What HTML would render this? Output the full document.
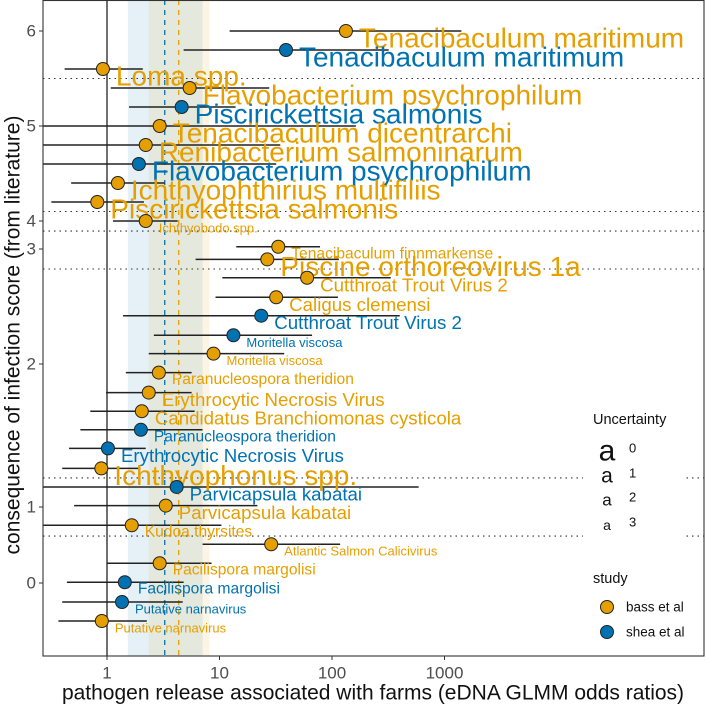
<!DOCTYPE html>
<html><head><meta charset="utf-8">
<style>
html,body{margin:0;padding:0;background:#fff;}
svg{display:block;font-family:"Liberation Sans",Arial,sans-serif;}
</style></head>
<body>
<svg id="chart" width="706" height="706" viewBox="0 0 706 706"></svg>
<script>
// ---- data ----
const pathogens = ["Tenacibaculum maritimum","Tenacibaculum maritimum","Loma spp.","Flavobacterium psychrophilum","Piscirickettsia salmonis","Tenacibaculum dicentrarchi","Renibacterium salmoninarum","Flavobacterium psychrophilum","Ichthyophthirius multifiliis","Piscirickettsia salmonis","Ichthyobodo spp.","Tenacibaculum finnmarkense","Piscine orthoreovirus 1a","Cutthroat Trout Virus 2","Caligus clemensi","Cutthroat Trout Virus 2","Moritella viscosa","Moritella viscosa","Paranucleospora theridion","Erythrocytic Necrosis Virus","Candidatus Branchiomonas cysticola","Paranucleospora theridion","Erythrocytic Necrosis Virus","Ichthyophonus spp.","Parvicapsula kabatai","Parvicapsula kabatai","Kudoa thyrsites","Atlantic Salmon Calicivirus","Pacilispora margolisi","Facilispora margolisi","Putative narnavirus","Putative narnavirus"];
const study = ["bass","shea","bass","bass","shea","bass","bass","shea","bass","bass","bass","bass","bass","bass","bass","shea","shea","bass","bass","bass","bass","shea","shea","bass","shea","bass","bass","bass","bass","shea","shea","bass"];
const scores = [6,5.8,5.6,5.4,5.2,5.0,4.8,4.6,4.4,4.2,4.0,3.08,2.91,2.75,2.58,2.42,2.25,2.09,1.94,1.80,1.67,1.54,1.41,1.27,1.14,1.01,0.76,0.51,0.26,0.01,-0.25,-0.5];
const oddsRatio = [133,39,0.92,5.43,4.61,2.94,2.21,1.92,1.25,0.82,2.21,33.3,26.6,60.1,31.9,23.5,13.3,8.85,2.89,2.35,2.04,2.0,1.02,0.89,4.16,3.33,1.66,28.8,2.94,1.44,1.36,0.90];
const ciLow = [12.3,4.8,0.42,1.08,1.57,0.01,0.01,0.01,0.48,0.32,1.13,14.1,6.13,10.6,9.22,1.39,2.61,2.35,1.47,0.98,0.71,0.58,0.46,0.40,0.01,0.51,0.01,7.07,1,0.44,0.40,0.37];
const ciHigh = [1413,319,2.08,27.7,13.9,163,34.7,31.9,3.26,2.13,4.25,78.3,115,333,113,400,66.5,37.6,5.65,5.65,6.01,7.07,2.21,1.96,589,21.7,10.4,118,8.5,4.8,4.71,2.26];
const uncertainty = [0,0,0,0,0,0,0,0,0,0,3,2,0,1,1,1,3,3,2,1,1,2,1,0,1,1,2,3,2,2,3,3];
const yTicks = [6,5,4,3,2,1,0];
const xTicks = [1,10,100,1000];
const separators = [5.5,4.1,3.64,2.826,1.203,0.618];
const meanOR = {shea:3.26, bass:4.34};
const bandOR = {shea:[1.53,7.07], bass:[2.35,8.15]};

// ---- scales ----
const PL=43, PR=704, PT=0, PB=656;
function xs(v){ return 107 + 112.5*Math.log10(v); }
const knots=[[6,31],[4,221],[3,249],[2,364],[1,507],[0,583],[-1,659]];
function ys(s){
  for(let i=0;i<knots.length-1;i++){
    const a=knots[i],b=knots[i+1];
    if(s<=a[0] && s>=b[0]) return a[1]+(a[0]-s)/(a[0]-b[0])*(b[1]-a[1]);
  }
  if(s>6) return 31-(s-6)*95;
  return 659+(-1-s)*76;
}
const colors={bass:"#E69F00", shea:"#0072B2"};
const sizeFor=[28,18.7,15.6,13];

const NS="http://www.w3.org/2000/svg";
const svg=document.getElementById('chart');
function el(tag,attrs,parent){const e=document.createElementNS(NS,tag);for(const k in attrs)e.setAttribute(k,attrs[k]);(parent||svg).appendChild(e);return e;}

const defs=el('defs',{});
const cp=el('clipPath',{id:'pc'},defs);
el('rect',{x:PL,y:PT,width:PR-PL,height:PB-PT},cp);

const panel=el('g',{'clip-path':'url(#pc)'});



for(const s of ["shea","bass"]){
  const r=el('rect',{x:xs(bandOR[s][0]),y:PT,width:xs(bandOR[s][1])-xs(bandOR[s][0]),height:PB-PT,fill:colors[s],'fill-opacity':0.1},panel);
  
  
}
separators.forEach((s,i)=>{
  const l=el('line',{x1:PL,x2:PR,y1:ys(s),y2:ys(s),stroke:'#333','stroke-width':1.1,'stroke-dasharray':'1.5 4'},panel);
  
  
});
const ref=el('line',{x1:xs(1),x2:xs(1),y1:PT,y2:PB,stroke:'#111','stroke-width':1.2},panel);


for(const s of ["shea","bass"]){
  const l=el('line',{x1:xs(meanOR[s]),x2:xs(meanOR[s]),y1:PT,y2:PB,stroke:colors[s],'stroke-width':1.3,'stroke-dasharray':'5 5'},panel);
  
  
}
pathogens.forEach((p,i)=>{
  const y=ys(scores[i]);
  const l=el('line',{x1:xs(ciLow[i]),x2:xs(ciHigh[i]),y1:y,y2:y,stroke:'#222','stroke-width':1.5},panel);
  
  
});
pathogens.forEach((p,i)=>{
  const t=el('text',{x:xs(oddsRatio[i])+13,y:ys(scores[i])+7,'font-size':sizeFor[uncertainty[i]],fill:colors[study[i]],'dominant-baseline':'central'},panel);
  t.textContent=p;
  
  
});
pathogens.forEach((p,i)=>{
  const c=el('circle',{cx:xs(oddsRatio[i]),cy:ys(scores[i]),r:6.5,fill:colors[study[i]],stroke:'#222','stroke-width':1},panel);
  
  
});

// legend
const lg=el('g',{});


el('rect',{x:583,y:400,width:100,height:250,fill:'#fff'},lg);
const lt=el('text',{x:593,y:424,'font-size':14.5,fill:'#111'},lg);lt.textContent='Uncertainty';


const aSizes=[30,21,17,14], aY=[451,476,500,525];
[0,1,2,3].forEach((u,i)=>{
  const a=el('text',{x:607,y:aY[i],'font-size':aSizes[i],'text-anchor':'middle','dominant-baseline':'central',fill:'#111'},lg);a.textContent='a';
  
  
  const n=el('text',{x:629,y:aY[i]-3,'font-size':13,'dominant-baseline':'central',fill:'#111'},lg);n.textContent=String(u);
  
  
});
const st=el('text',{x:593,y:583,'font-size':14.5,fill:'#111'},lg);st.textContent='study';


[["bass","bass et al",607],["shea","shea et al",632]].forEach(d=>{
  const c=el('circle',{cx:607,cy:d[2],r:6.5,fill:colors[d[0]],stroke:'#222','stroke-width':1},lg);
  
  
  const t=el('text',{x:626,y:d[2],'font-size':13.5,'dominant-baseline':'central',fill:'#111'},lg);t.textContent=d[1];
  
  
});

const border=el('rect',{x:PL,y:PT+0.5,width:PR-PL,height:PB-PT-0.5,fill:'none',stroke:'#333','stroke-width':1.1});



yTicks.forEach(v=>{
  const y=ys(v);
  el('line',{x1:PL-4,x2:PL,y1:y,y2:y,stroke:'#333','stroke-width':1});
  const t=el('text',{x:PL-7,y:y,'font-size':17,'text-anchor':'end','dominant-baseline':'central',fill:'#4d4d4d'});
  t.textContent=String(v);
  
  
});
xTicks.forEach(v=>{
  const x=xs(v);
  el('line',{x1:x,x2:x,y1:PB,y2:PB+4,stroke:'#333','stroke-width':1});
  const t=el('text',{x:x,y:PB+17,'font-size':17,'text-anchor':'middle','dominant-baseline':'central',fill:'#4d4d4d'});
  t.textContent=String(v);
  
  
});
const xt=el('text',{x:373,y:693,'font-size':21,'text-anchor':'middle','dominant-baseline':'central',fill:'#111'});
xt.textContent='pathogen release associated with farms (eDNA GLMM odds ratios)';


const yt=el('text',{x:0,y:0,'font-size':21,'text-anchor':'middle','dominant-baseline':'central',fill:'#111',transform:'translate(13,335) rotate(-90)'});
yt.textContent='consequence of infection score (from literature)';


</script>
</body></html>
